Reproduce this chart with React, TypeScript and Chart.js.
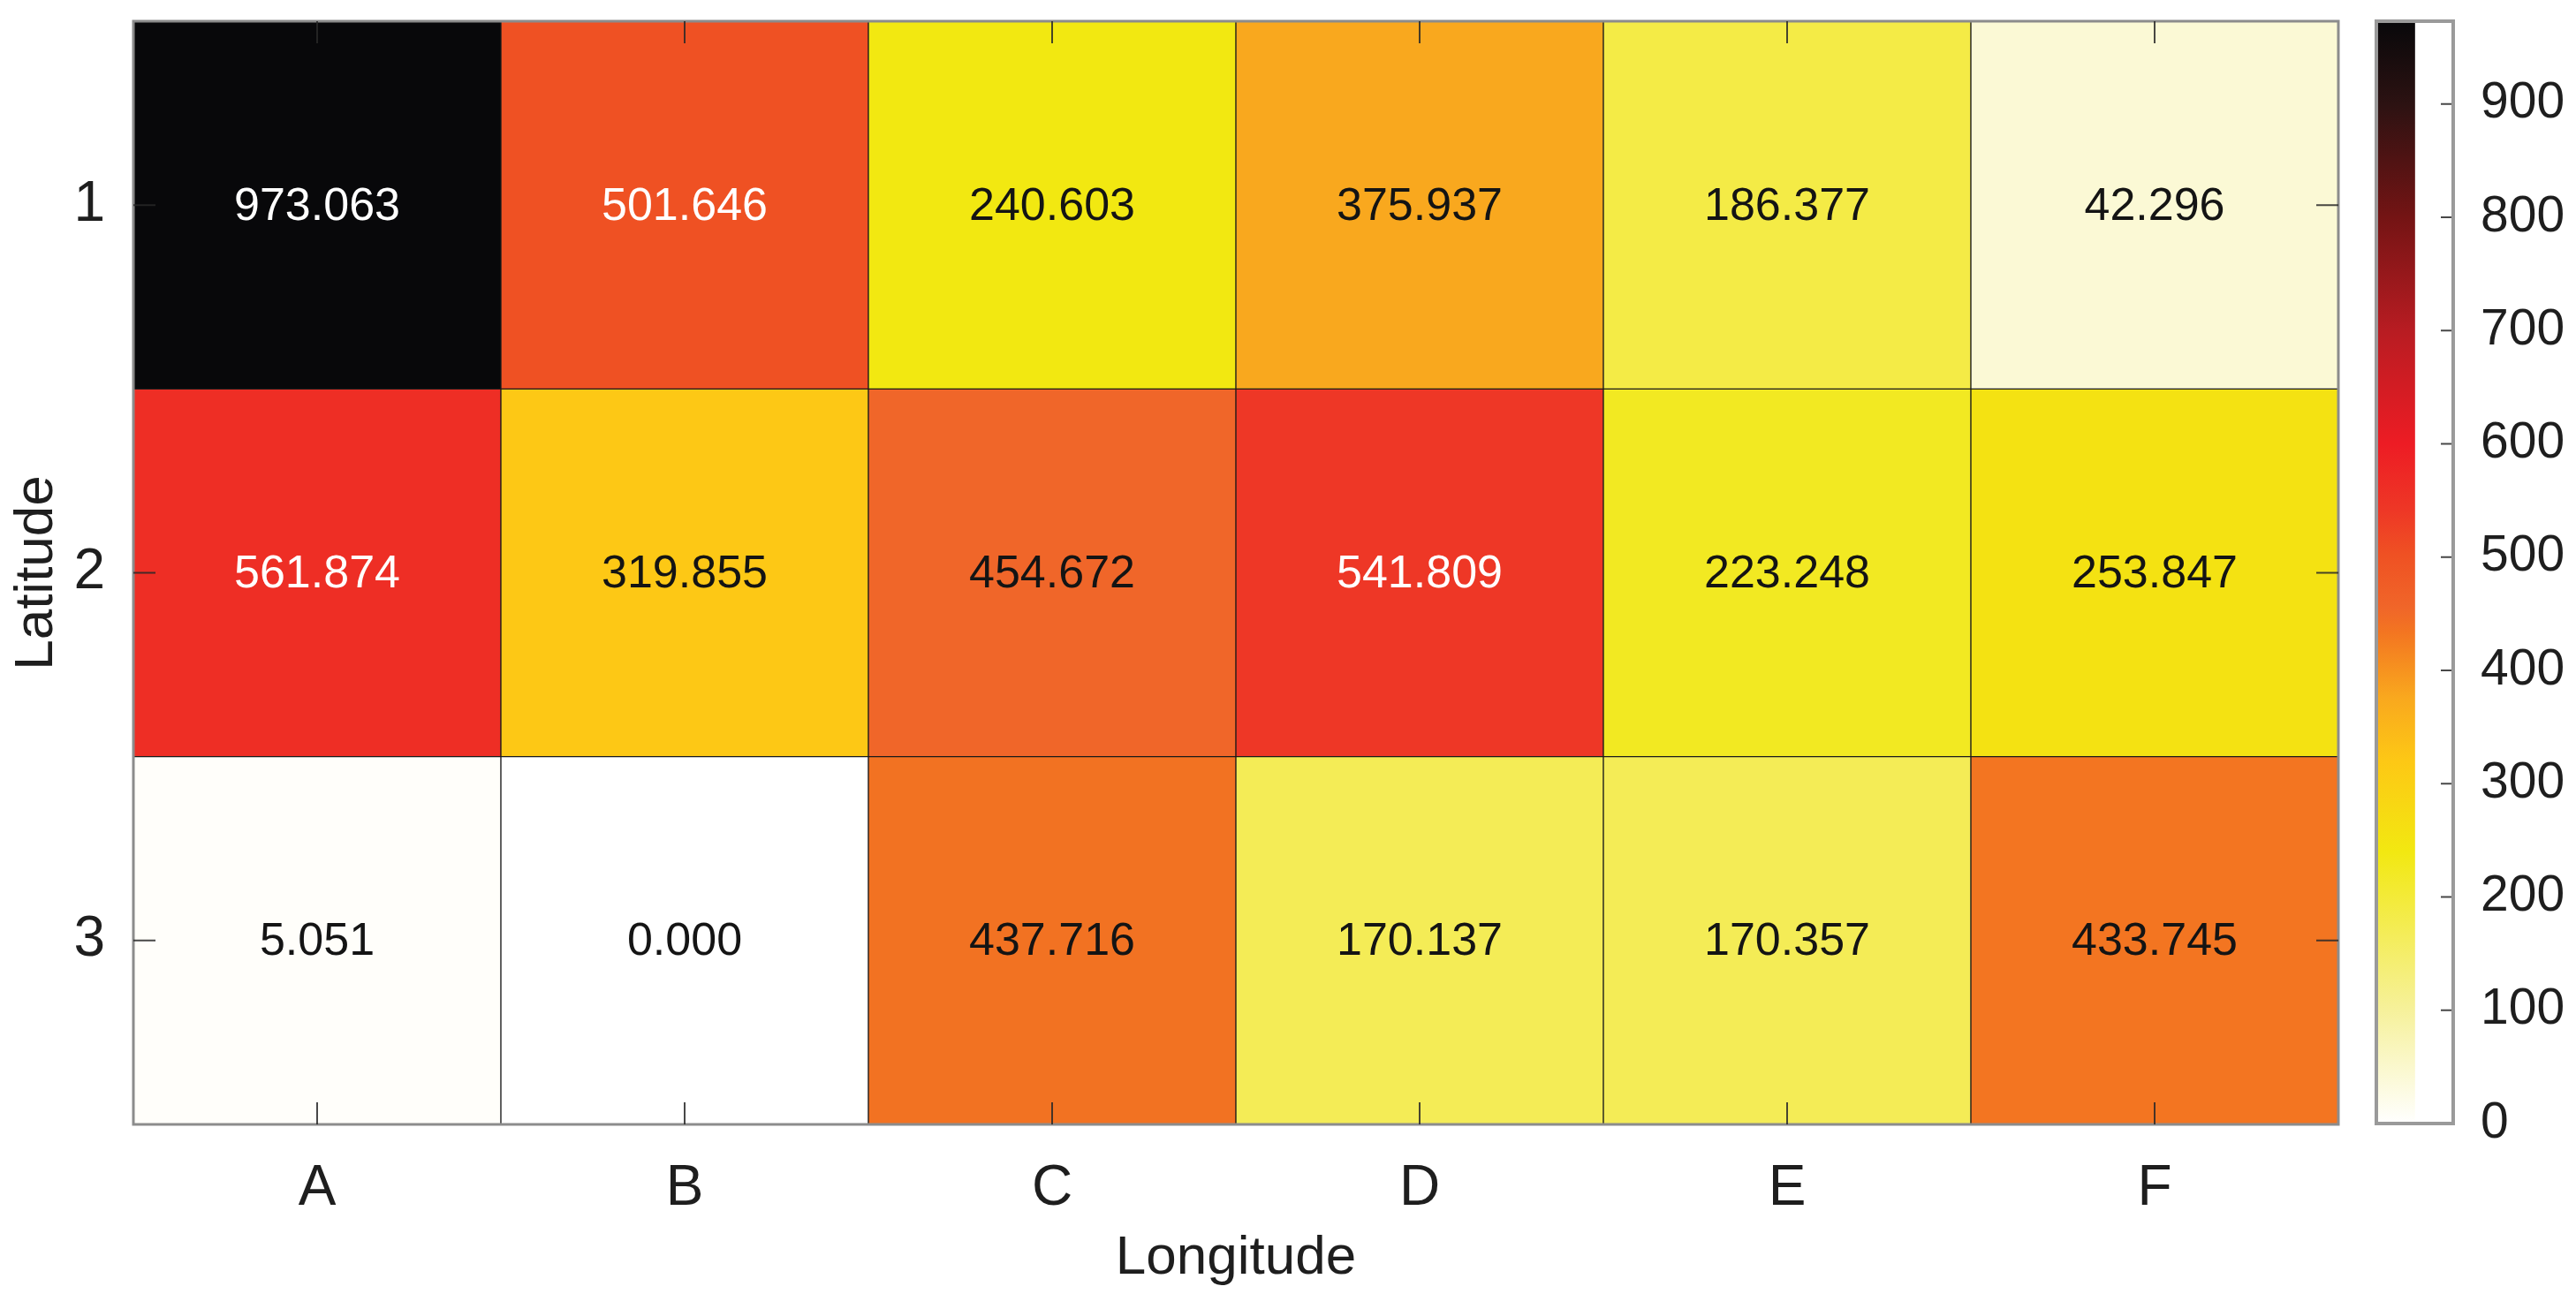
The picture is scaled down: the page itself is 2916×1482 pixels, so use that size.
import React, { useEffect, useRef } from 'react';
import { Chart, registerables } from 'chart.js';

Chart.register(...registerables);

// ---- data ----
const xLabels = ['A', 'B', 'C', 'D', 'E', 'F'];
const yLabels = ['1', '2', '3'];
const row1 = [973.063, 501.646, 240.603, 375.937, 186.377, 42.296];
const row2 = [561.874, 319.855, 454.672, 541.809, 223.248, 253.847];
const row3 = [5.051, 0.0, 437.716, 170.137, 170.357, 433.745];
const rows = [row1, row2, row3];
const xTitle = 'Longitude';
const yTitle = 'Latitude';
const cbMin = 0;
const cbMax = 973.063;
const cbTicks = [0, 100, 200, 300, 400, 500, 600, 700, 800, 900];

// colormap control points (value -> colour)
const cmapStops = [0, 100, 240, 320, 376, 434, 455, 502, 542, 600, 700, 800, 900, 973.063];
const cmapColors = [
  '#ffffff', '#f6f19b', '#f2e811', '#fdc815', '#f9a81e', '#f37521', '#f06629',
  '#ef5123', '#ee3726', '#ed1c24', '#b81c22', '#741414', '#2c1212', '#08080a',
];
const whiteTextAbove = 480;

const FONT = '"Liberation Sans", Arial, Helvetica, sans-serif';

function hexToRgb(h: string): number[] {
  const n = parseInt(h.slice(1), 16);
  return [(n >> 16) & 255, (n >> 8) & 255, n & 255];
}

function cmap(v: number): string {
  if (v <= cmapStops[0]) return cmapColors[0];
  for (let i = 1; i < cmapStops.length; i++) {
    if (v <= cmapStops[i]) {
      const t = (v - cmapStops[i - 1]) / (cmapStops[i] - cmapStops[i - 1]);
      const a = hexToRgb(cmapColors[i - 1]);
      const b = hexToRgb(cmapColors[i]);
      const c = a.map((av, k) => Math.round(av + (b[k] - av) * t));
      return `rgb(${c[0]},${c[1]},${c[2]})`;
    }
  }
  return cmapColors[cmapColors.length - 1];
}

const W = 2916;
const H = 1482;
const CB_LEFT = 2650;
const CB_W = W - CB_LEFT;

const heatPlugin = {
  id: 'heatExtras',
  afterDatasetsDraw(chart: any) {
    const ctx = chart.ctx;
    const area = chart.chartArea;
    const xs = chart.scales.x;
    const ys = chart.scales.y;
    ctx.save();
    // cell value labels
    ctx.font = `52px ${FONT}`;
    ctx.textAlign = 'center';
    ctx.textBaseline = 'middle';
    chart.data.datasets.forEach((ds: any, i: number) => {
      const meta = chart.getDatasetMeta(i);
      meta.data.forEach((el: any, j: number) => {
        const p = el.getProps(['x', 'y', 'base'], true);
        const v = rows[i][j];
        ctx.fillStyle = v > whiteTextAbove ? '#ffffff' : '#141414';
        ctx.fillText(v.toFixed(3), p.x, (p.y + p.base) / 2 + 2);
      });
    });
    // box
    ctx.strokeStyle = '#8c8c8c';
    ctx.lineWidth = 3;
    ctx.strokeRect(area.left, area.top, area.right - area.left, area.bottom - area.top);
    // inside tick marks (mirrored)
    ctx.strokeStyle = 'rgba(40,40,40,0.85)';
    ctx.lineWidth = 2;
    const tl = 25;
    ctx.beginPath();
    xLabels.forEach((_, j) => {
      const px = xs.getPixelForTick(j);
      ctx.moveTo(px, area.bottom);
      ctx.lineTo(px, area.bottom - tl);
      ctx.moveTo(px, area.top);
      ctx.lineTo(px, area.top + tl);
    });
    yLabels.forEach((_, i) => {
      const py = ys.getPixelForValue(i + 1);
      ctx.moveTo(area.left, py);
      ctx.lineTo(area.left + tl, py);
      ctx.moveTo(area.right, py);
      ctx.lineTo(area.right - tl, py);
    });
    ctx.stroke();
    ctx.restore();
  },
};

const cbPlugin = {
  id: 'cbExtras',
  afterDatasetsDraw(chart: any) {
    const ctx = chart.ctx;
    const area = chart.chartArea;
    const ys = chart.scales.y;
    ctx.save();
    ctx.strokeStyle = 'rgba(40,40,40,0.85)';
    ctx.lineWidth = 2;
    ctx.beginPath();
    cbTicks.forEach((t) => {
      if (t === cbMin) return;
      const py = ys.getPixelForValue(t);
      ctx.moveTo(area.right - 14, py);
      ctx.lineTo(area.right, py);
    });
    ctx.stroke();
    ctx.strokeStyle = '#9a9a9a';
    ctx.lineWidth = 4;
    ctx.strokeRect(area.left, area.top, area.right - area.left, area.bottom - area.top);
    ctx.restore();
  },
};

const noPad = (s: any) => {
  s.paddingTop = 0;
  s.paddingBottom = 0;
  s.paddingLeft = 0;
  s.paddingRight = 0;
};

export default function App() {
  const mainRef = useRef<HTMLCanvasElement>(null);
  const cbRef = useRef<HTMLCanvasElement>(null);

  useEffect(() => {
    const mainChart = new Chart(mainRef.current as HTMLCanvasElement, {
      type: 'bar',
      data: {
        labels: xLabels,
        datasets: rows.map((vals, i) => ({
          label: yLabels[i],
          data: vals.map(() => [i + 0.5, i + 1.5]) as any,
          backgroundColor: vals.map((v) => cmap(v)),
          borderColor: '#1a1a1a',
          borderWidth: 1,
          borderSkipped: false,
          grouped: false,
          barPercentage: 1,
          categoryPercentage: 1,
        })),
      },
      options: {
        responsive: false,
        animation: false,
        devicePixelRatio: 1,
        layout: { padding: { left: 0, top: 24, right: W - 2647, bottom: 0 } },
        plugins: { legend: { display: false }, tooltip: { enabled: false } },
        scales: {
          x: {
            type: 'category',
            offset: true,
            grid: { display: false },
            border: { display: false },
            ticks: { font: { family: FONT, size: 64 }, color: '#1e1e1e', padding: 27 },
            title: {
              display: true,
              text: xTitle,
              font: { family: FONT, size: 62 },
              color: '#1e1e1e',
              padding: { top: 0, bottom: 20 },
            },
            afterFit: (s: any) => {
              s.height = H - 1273;
              noPad(s);
            },
          },
          y: {
            type: 'linear',
            reverse: true,
            min: 0.5,
            max: 3.5,
            afterBuildTicks: (s: any) => {
              s.ticks = yLabels.map((_, i) => ({ value: i + 1 }));
            },
            grid: { display: false },
            border: { display: false },
            ticks: {
              font: { family: FONT, size: 64 },
              color: '#1e1e1e',
              padding: 24,
              callback: (v: any) => yLabels[Number(v) - 1],
            },
            title: {
              display: true,
              text: yTitle,
              font: { family: FONT, size: 62 },
              color: '#1e1e1e',
              padding: { top: 5, bottom: 0 },
            },
            afterFit: (s: any) => {
              s.width = 151;
              noPad(s);
            },
          },
        },
      } as any,
      plugins: [heatPlugin],
    });

    const cbChart = new Chart(cbRef.current as HTMLCanvasElement, {
      type: 'bar',
      data: {
        labels: [''],
        datasets: [
          {
            data: [[cbMin, cbMax]] as any,
            backgroundColor: (c: any) => {
              const area = c.chart.chartArea;
              if (!area) return cmapColors[0];
              const ys = c.chart.scales.y;
              const g = c.chart.ctx.createLinearGradient(0, ys.getPixelForValue(cbMin), 0, ys.getPixelForValue(cbMax));
              cmapStops.forEach((s, k) => g.addColorStop((s - cbMin) / (cbMax - cbMin), cmapColors[k]));
              return g;
            },
            borderWidth: 0,
            barPercentage: 1,
            categoryPercentage: 1,
          },
        ],
      },
      options: {
        responsive: false,
        animation: false,
        devicePixelRatio: 1,
        layout: { padding: { left: 2690 - CB_LEFT, top: 24, right: 0, bottom: H - 1272 } },
        plugins: { legend: { display: false }, tooltip: { enabled: false } },
        scales: {
          x: { display: false, offset: false },
          y: {
            type: 'linear',
            position: 'right',
            min: cbMin,
            max: cbMax,
            afterBuildTicks: (s: any) => {
              s.ticks = cbTicks.map((t) => ({ value: t }));
            },
            grid: { display: false },
            border: { display: false },
            ticks: { font: { family: FONT, size: 57 }, color: '#1e1e1e', padding: 23 },
            afterFit: (s: any) => {
              s.width = W - 2777;
              noPad(s);
            },
          },
        },
      } as any,
      plugins: [cbPlugin],
    });

    return () => {
      mainChart.destroy();
      cbChart.destroy();
    };
  }, []);

  return (
    <div style={{ position: 'absolute', left: 0, top: 0, width: W, height: H, background: '#ffffff' }}>
      <canvas ref={mainRef} width={W} height={H} style={{ position: 'absolute', left: 0, top: 0, width: W, height: H }} />
      <canvas ref={cbRef} width={CB_W} height={H} style={{ position: 'absolute', left: CB_LEFT, top: 0, width: CB_W, height: H }} />
    </div>
  );
}
